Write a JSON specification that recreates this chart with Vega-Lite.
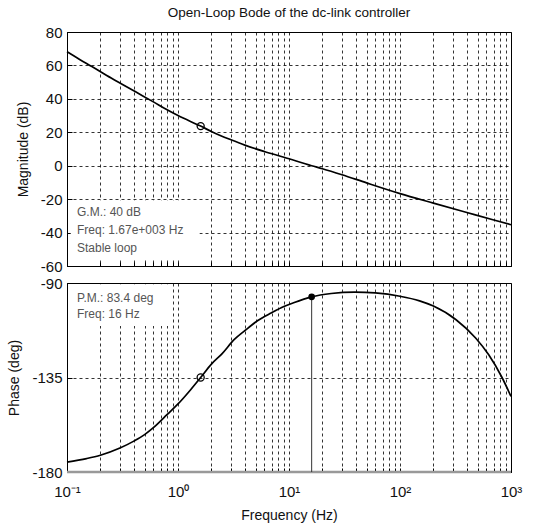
{
  "$schema": "https://vega.github.io/schema/vega-lite/v6.json",
  "background": "white",
  "padding": {"left": 7, "top": 5, "right": 5, "bottom": 5},
  "spacing": 0,
  "config": {
    "font": "Liberation Sans",
    "view": {"stroke": "#000", "strokeWidth": 1},
    "axis": {
      "gridColor": "#000", "gridDash": [3, 3], "gridOpacity": 0.8, "gridWidth": 1,
      "domainColor": "#000", "tickColor": "#000",
      "labelColor": "#111", "labelFontSize": 15, "labelFont": "Liberation Sans",
      "titleColor": "#111", "titleFontSize": 14, "titleFontWeight": "normal", "titleFont": "Liberation Sans"
    }
  },
  "datasets": {
    "mag": [
      {"f": 0.1, "v": 68.2}, {"f": 0.13, "v": 63.6}, {"f": 0.166, "v": 59.5}, {"f": 0.25, "v": 52.5},
      {"f": 0.415, "v": 44.2}, {"f": 0.6, "v": 38.2}, {"f": 0.79, "v": 33.6}, {"f": 1.0, "v": 30.0},
      {"f": 1.6, "v": 23.7}, {"f": 2.04, "v": 20.2}, {"f": 3.0, "v": 15.5}, {"f": 4.0, "v": 12.3},
      {"f": 6.0, "v": 8.5}, {"f": 9.0, "v": 5.1}, {"f": 16, "v": 0.0}, {"f": 20, "v": -1.8},
      {"f": 30, "v": -5.4}, {"f": 50, "v": -10.3}, {"f": 100, "v": -16.7}, {"f": 200, "v": -22.4},
      {"f": 400, "v": -28.0}, {"f": 700, "v": -32.5}, {"f": 1000, "v": -35.3}
    ],
    "phase": [
      {"f": 0.1, "v": -175.3}, {"f": 0.15, "v": -173.6}, {"f": 0.2, "v": -172.0}, {"f": 0.3, "v": -168.6},
      {"f": 0.4, "v": -165.3}, {"f": 0.5, "v": -162.2}, {"f": 0.6, "v": -158.9}, {"f": 0.8, "v": -152.6},
      {"f": 1.0, "v": -147.6}, {"f": 1.3, "v": -140.8}, {"f": 1.6, "v": -135.0}, {"f": 2.0, "v": -128.6},
      {"f": 2.5, "v": -123.6}, {"f": 3.2, "v": -117.0}, {"f": 4.0, "v": -112.7}, {"f": 5.2, "v": -108.0},
      {"f": 6.9, "v": -104.3}, {"f": 9.0, "v": -101.2}, {"f": 11, "v": -99.4}, {"f": 16, "v": -96.6},
      {"f": 24, "v": -95.0}, {"f": 39, "v": -94.3}, {"f": 60, "v": -94.7}, {"f": 100, "v": -96.3},
      {"f": 150, "v": -98.5}, {"f": 200, "v": -101.0}, {"f": 320, "v": -107.5}, {"f": 480, "v": -116.2},
      {"f": 630, "v": -124.2}, {"f": 830, "v": -135.0}, {"f": 1000, "v": -144.0}
    ],
    "magBox": [{"f": 0.108, "f2": 1.56, "v": -56, "v2": -20.8}],
    "phaseBox": [{"f": 0.108, "f2": 0.84, "v": -110.5, "v2": -90.6}],
    "magMarker": [{"f": 1.6, "v": 23.7}],
    "phaseMarker": [{"f": 1.6, "v": -135.0}],
    "pmPoint": [{"f": 16, "v": -96.6, "v2": -180}],
    "refLine": [{"f": 0.1, "f2": 1000, "v": -180}],
    "gmText": [
      {"f": 0.123, "v": -27.8, "label": "G.M.: 40 dB"},
      {"f": 0.123, "v": -38.7, "label": "Freq: 1.67e+003 Hz"},
      {"f": 0.123, "v": -49.5, "label": "Stable loop"}
    ],
    "pmText": [
      {"f": 0.123, "v": -97.1, "label": "P.M.: 83.4 deg"},
      {"f": 0.123, "v": -104.7, "label": "Freq: 16 Hz"}
    ]
  },
  "vconcat": [
    {
      "width": 444,
      "height": 234,
      "title": {"text": "Open-Loop Bode of the dc-link controller", "fontSize": 13.5, "fontWeight": "normal", "font": "Liberation Sans", "color": "#111", "offset": 6, "anchor": "middle"},
      "encoding": {
        "x": {
          "field": "f", "type": "quantitative",
          "scale": {"type": "log", "domain": [0.1, 1000], "nice": false},
          "axis": {
            "values": [0.1, 0.2, 0.3, 0.4, 0.5, 0.6, 0.7, 0.8, 0.9, 1, 2, 3, 4, 5, 6, 7, 8, 9, 10, 20, 30, 40, 50, 60, 70, 80, 90, 100, 200, 300, 400, 500, 600, 700, 800, 900, 1000],
            "labels": false, "tickSize": -4, "title": null, "grid": true
          }
        },
        "y": {
          "field": "v", "type": "quantitative",
          "scale": {"domain": [-60, 80], "nice": false, "zero": false},
          "axis": {"values": [-60, -40, -20, 0, 20, 40, 60, 80], "labelExpr": "'' + datum.value", "tickSize": -5, "labelPadding": 10, "title": "Magnitude (dB)", "titlePadding": 10, "grid": true}
        }
      },
      "layer": [
        {"data": {"name": "magBox"}, "mark": {"type": "rect", "fill": "white"}, "encoding": {"x2": {"field": "f2"}, "y2": {"field": "v2"}}},
        {"data": {"name": "mag"}, "mark": {"type": "line", "color": "#000", "strokeWidth": 1.7, "interpolate": "monotone"}},
        {"data": {"name": "magMarker"}, "mark": {"type": "point", "shape": "circle", "filled": false, "color": "#000", "size": 50, "strokeWidth": 1.3, "opacity": 1}},
        {"data": {"name": "gmText"}, "mark": {"type": "text", "align": "left", "baseline": "middle", "fontSize": 12, "color": "#555", "font": "Liberation Sans"}, "encoding": {"text": {"field": "label"}}}
      ]
    },
    {
      "width": 444,
      "height": 189,
      "encoding": {
        "x": {
          "field": "f", "type": "quantitative",
          "scale": {"type": "log", "domain": [0.1, 1000], "nice": false},
          "axis": {
            "values": [0.1, 0.2, 0.3, 0.4, 0.5, 0.6, 0.7, 0.8, 0.9, 1, 2, 3, 4, 5, 6, 7, 8, 9, 10, 20, 30, 40, 50, 60, 70, 80, 90, 100, 200, 300, 400, 500, 600, 700, 800, 900, 1000],
            "labelExpr": "datum.value == 0.1 ? '10⁻¹' : datum.value == 1 ? '10⁰' : datum.value == 10 ? '10¹' : datum.value == 100 ? '10²' : datum.value == 1000 ? '10³' : ''",
            "labelOverlap": false, "labelFlush": false, "labelPadding": 16, "labelFontSize": 15,
            "tickSize": -4, "title": "Frequency (Hz)", "titlePadding": 9, "grid": true
          }
        },
        "y": {
          "field": "v", "type": "quantitative",
          "scale": {"domain": [-180, -90], "nice": false, "zero": false},
          "axis": {"values": [-180, -135, -90], "labelExpr": "'' + datum.value", "tickSize": -5, "labelPadding": 10, "title": "Phase (deg)", "titlePadding": 10, "grid": true}
        }
      },
      "layer": [
        {"data": {"name": "phaseBox"}, "mark": {"type": "rect", "fill": "white"}, "encoding": {"x2": {"field": "f2"}, "y2": {"field": "v2"}}},
        {"data": {"name": "refLine"}, "mark": {"type": "rule", "color": "#999", "strokeWidth": 2.5}, "encoding": {"x2": {"field": "f2"}}},
        {"data": {"name": "pmPoint"}, "mark": {"type": "rule", "color": "#333", "strokeWidth": 1}, "encoding": {"y2": {"field": "v2"}}},
        {"data": {"name": "phase"}, "mark": {"type": "line", "color": "#000", "strokeWidth": 1.7, "interpolate": "monotone"}},
        {"data": {"name": "phaseMarker"}, "mark": {"type": "point", "shape": "circle", "filled": false, "color": "#000", "size": 50, "strokeWidth": 1.3, "opacity": 1}},
        {"data": {"name": "pmPoint"}, "mark": {"type": "point", "shape": "circle", "filled": true, "color": "#000", "size": 45, "opacity": 1}},
        {"data": {"name": "pmText"}, "mark": {"type": "text", "align": "left", "baseline": "middle", "fontSize": 12, "color": "#555", "font": "Liberation Sans"}, "encoding": {"text": {"field": "label"}}}
      ]
    }
  ]
}
